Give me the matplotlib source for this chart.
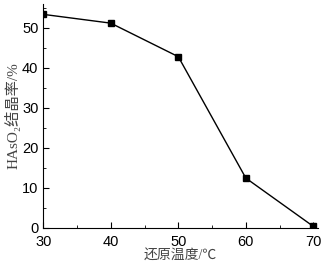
import matplotlib
matplotlib.use("Agg")
import matplotlib.pyplot as plt
from matplotlib.ticker import MultipleLocator

# reduction temperature (°C) vs HAsO2 crystallization rate (%)
temps = [30, 40, 50, 60, 70]
rates = [53.4, 51.2, 42.8, 12.4, 0.3]

plt.rcParams['font.family'] = ['Liberation Sans', 'DejaVu Sans']
serif_cjk = ['Liberation Serif', 'Noto Sans CJK SC', 'DejaVu Sans']

fig = plt.figure(figsize=(3.3, 2.65), dpi=100)
ax = fig.add_axes([0.131, 0.141, 0.833, 0.844])

ax.plot(temps, rates, color='black', linewidth=1.0, marker='s', markersize=3.8)

ax.set_xlim(30, 70.7)
ax.set_ylim(0, 56)
ax.xaxis.set_major_locator(MultipleLocator(10))
ax.xaxis.set_minor_locator(MultipleLocator(5))
ax.yaxis.set_major_locator(MultipleLocator(10))
ax.yaxis.set_minor_locator(MultipleLocator(5))
ax.tick_params(which='both', direction='in', labelsize=10.5)
ax.tick_params(axis='x', pad=5)
ax.tick_params(axis='y', pad=3.5)
ax.tick_params(which='major', length=4)
ax.tick_params(which='minor', length=2.5)
for s in ['top', 'right']:
    ax.spines[s].set_visible(False)

ax.set_xlabel('还原温度/℃', fontsize=10, family=serif_cjk, color='#444444', labelpad=0)
ax.set_ylabel('HAsO₂结晶率/%', fontsize=11, family=serif_cjk, color='#444444', labelpad=1)

fig.savefig("out.png", dpi=100)
